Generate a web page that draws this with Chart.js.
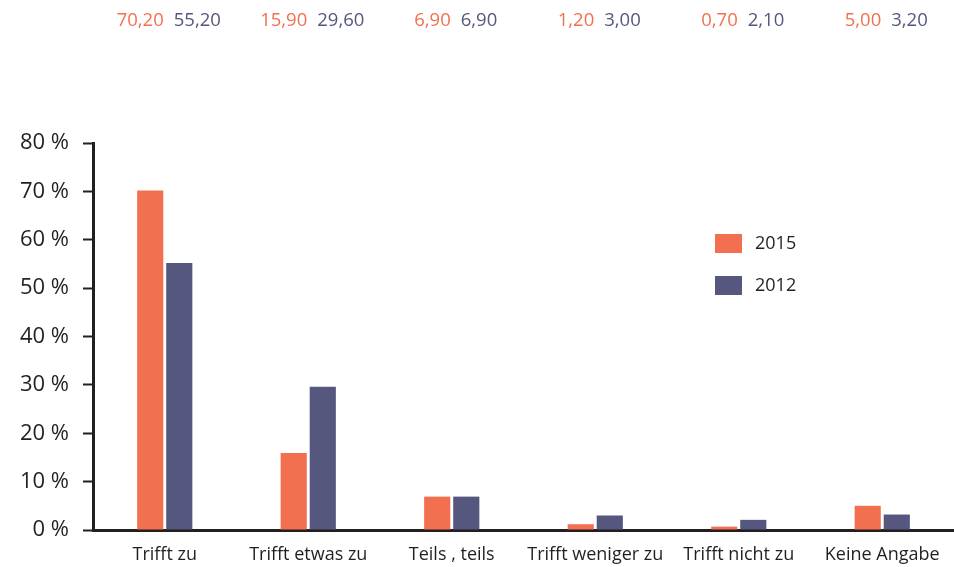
<!DOCTYPE html>
<html><head><meta charset="utf-8">
<script src="https://cdn.jsdelivr.net/npm/chart.js@4.4.1/dist/chart.umd.min.js"></script>
<style>html,body{margin:0;padding:0;background:#fff}#wrap{width:954px;height:567px;position:relative}</style>
</head><body><div id="wrap"><canvas id="c" width="954" height="567"></canvas></div>
<script>
const categories = ["Trifft zu","Trifft etwas zu","Teils , teils","Trifft weniger zu","Trifft nicht zu","Keine Angabe"];
const values2015 = [70.2, 15.9, 6.9, 1.2, 0.7, 5.0];
const values2012 = [55.2, 29.6, 6.9, 3.0, 2.1, 3.2];
const seriesLabels = ["2015","2012"];
const yTicks = [0,10,20,30,40,50,60,70,80];
const colors = ["#F2704F","#55577E"];
const FONT = "'Open Sans', sans-serif";
const TEXT = "#231f20";

const fmt = v => v.toFixed(2).replace('.', ',');

const extras = {
  id: 'extras',
  afterDraw(chart) {
    const ctx = chart.ctx;
    const xs = chart.scales.x;
    ctx.save();
    ctx.font = "18.5px " + FONT;
    ctx.textBaseline = 'middle';
    categories.forEach((c, i) => {
      const cx = xs.getPixelForValue(i) + 4;
      ctx.fillStyle = colors[0];
      ctx.textAlign = 'right';
      ctx.fillText(fmt(values2015[i]), cx - 5, 21);
      ctx.fillStyle = colors[1];
      ctx.textAlign = 'left';
      ctx.fillText(fmt(values2012[i]), cx + 5, 21);
    });
    // legend
    ctx.font = "18px " + FONT;
    const lx = 715, ly = [234, 276];
    chart.data.datasets.forEach((ds, i) => {
      ctx.fillStyle = ds.backgroundColor;
      ctx.fillRect(lx, ly[i], 27, 19);
      ctx.fillStyle = TEXT;
      ctx.textAlign = 'left';
      ctx.fillText(ds.label, lx + 40, ly[i] + 10);
    });
    ctx.restore();
  }
};

new Chart(document.getElementById('c'), {
  type: 'bar',
  data: {
    labels: categories,
    datasets: [
      {label: seriesLabels[0], data: values2015, backgroundColor: colors[0], borderWidth: 0},
      {label: seriesLabels[1], data: values2012, backgroundColor: colors[1], borderWidth: 0}
    ]
  },
  options: {
    responsive: false,
    animation: false,
    datasets: {bar: {categoryPercentage: 0.405, barPercentage: 0.9}},
    layout: {padding: {top: 143, right: 0, left: 0, bottom: 0}},
    plugins: {legend: {display: false}, tooltip: {enabled: false}},
    scales: {
      x: {
        grid: {display: false, drawTicks: false},
        border: {color: TEXT, width: 3},
        ticks: {color: TEXT, font: {family: FONT, size: 18}, padding: 14, maxRotation: 0, autoSkip: false},
        afterFit(s) { s.height = 37; }
      },
      y: {
        min: 0, max: 80,
        afterBuildTicks(s) { s.ticks = yTicks.map(v => ({value: v})); },
        grid: {drawOnChartArea: false, drawTicks: true, tickLength: 10, tickWidth: 2, tickColor: TEXT},
        border: {color: TEXT, width: 3},
        ticks: {color: TEXT, font: {family: FONT, size: 22}, padding: 14, callback: v => v + ' %'},
        afterFit(s) { s.width = 93; }
      }
    }
  },
  plugins: [extras]
});
</script></body></html>
